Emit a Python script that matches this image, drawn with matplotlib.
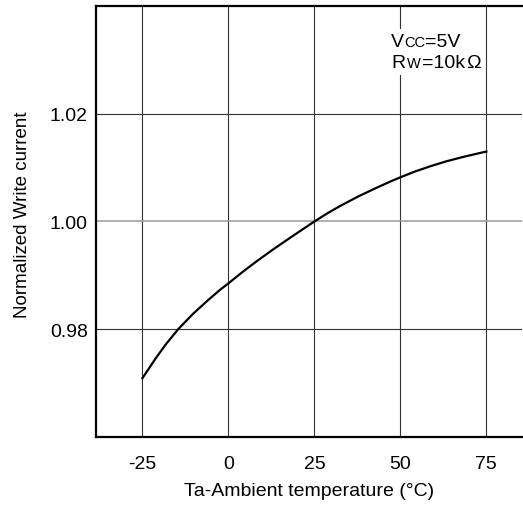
import matplotlib
matplotlib.use('Agg')
import matplotlib.pyplot as plt
from matplotlib.offsetbox import TextArea, HPacker, VPacker, AnnotationBbox

plt.rcParams['font.family'] = ['Liberation Sans', 'DejaVu Sans']
plt.rcParams['axes.unicode_minus'] = False

# Data
temp = [-25, -21.2, -18.2, -14.5, -10.3, -6.3, -2.4, 0, 4.0, 7.9, 12.8, 17.7, 22.6, 25,
        28.9, 32.8, 37.6, 42.5, 47.3, 50, 54.0, 58.7, 63.3, 68.0, 72.7, 75]
current = [0.97092, 0.97455, 0.97720, 0.98009, 0.98285, 0.98519, 0.98734, 0.98851,
           0.99058, 0.99247, 0.99473, 0.99687, 0.99898, 1.00000,
           1.00157, 1.00299, 1.00460, 1.00609, 1.00748, 1.00820,
           1.00922, 1.01025, 1.01116, 1.01194, 1.01265, 1.01298]
xticks = [-25, 0, 25, 50, 75]
yticks = [0.98, 1.00, 1.02]
ytick_labels = ['0.98', '1.00', '1.02']

fig = plt.figure(figsize=(5.23, 5.10), dpi=100)
ax = fig.add_axes([0.1836, 0.1412, 0.8154, 0.8451])

ax.plot(temp, current, color='black', lw=1.6, zorder=3)

ax.set_xlim(-38.5, 85.5)
ax.set_ylim(0.96, 1.04)
ax.set_xticks(xticks)
ax.set_yticks(yticks)
ax.set_yticklabels(ytick_labels)
ax.tick_params(axis='both', length=0, labelsize=14)
ax.tick_params(axis='x', pad=13)
ax.tick_params(axis='y', pad=6)
ax.grid(True, color='#333333', lw=0.8)
# the 1.00 reference line is drawn lighter in the original
ax.get_ygridlines()[1].set_color('#999999')
ax.get_ygridlines()[1].set_linewidth(1.1)

for side in ['left', 'bottom', 'top']:
    ax.spines[side].set_linewidth(1.6)
ax.spines['right'].set_visible(False)

ax.set_xlabel('Ta-Ambient temperature (°C)', fontsize=14, labelpad=7)
ax.set_ylabel('Normalized Write current', fontsize=13.5)
ax.yaxis.set_label_coords(-0.152, 0.517)

# Condition note with small-caps style subscripts
big = dict(fontsize=14, color='black')
small = dict(fontsize=10.5, color='black')
line1 = HPacker(children=[TextArea('V', textprops=big), TextArea('CC', textprops=small),
                          TextArea('=5V', textprops=big)], align='baseline', pad=0, sep=0)
line2 = HPacker(children=[TextArea('R', textprops=big), TextArea('W', textprops=small),
                          TextArea('=10k', textprops=big), TextArea('Ω', textprops=big)],
                align='baseline', pad=0, sep=1)
note = VPacker(children=[line1, line2], align='left', pad=0, sep=3)
ab = AnnotationBbox(note, (0.692, 0.937), xycoords='axes fraction', box_alignment=(0, 1),
                    frameon=True, pad=0.3, bboxprops=dict(facecolor='white', edgecolor='none'))
ab.set_zorder(4)
ax.add_artist(ab)

fig.savefig('out.png', dpi=100)
